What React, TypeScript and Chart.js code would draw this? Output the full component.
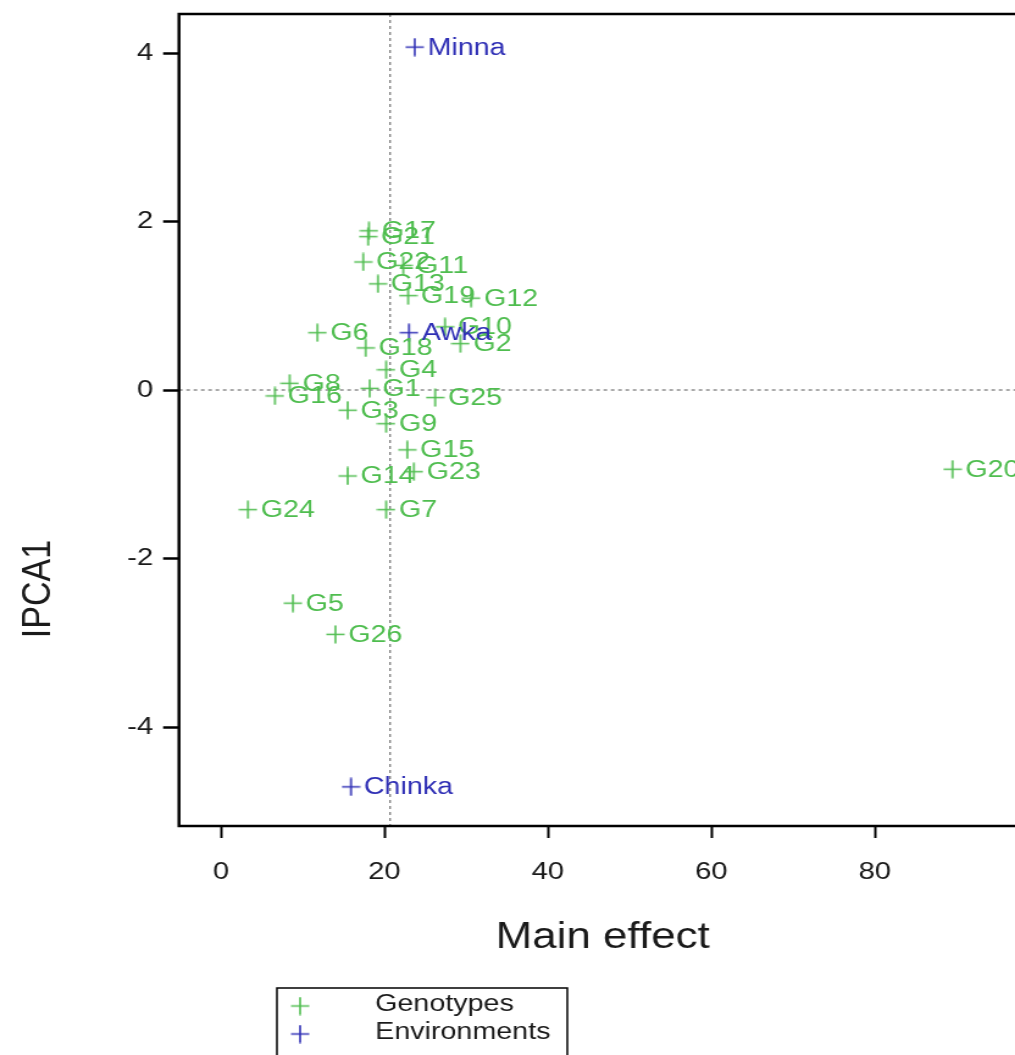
import React, { useEffect, useRef } from "react";
import { Chart, registerables } from "chart.js";

Chart.register(...registerables);

// ---- data ----
const genotypeNames = [
  "G1", "G2", "G3", "G4", "G5", "G6", "G7", "G8", "G9", "G10", "G11", "G12", "G13",
  "G14", "G15", "G16", "G17", "G18", "G19", "G20", "G21", "G22", "G23", "G24", "G25", "G26",
];
const genotypeMain = [
  18.2, 29.3, 15.5, 20.2, 8.8, 11.8, 20.2, 8.4, 20.2, 27.4, 22.3, 30.6, 19.2,
  15.5, 22.8, 6.6, 18.1, 17.7, 22.9, 89.5, 18.0, 17.4, 23.6, 3.3, 26.2, 14.0,
];
const genotypeIPCA1 = [
  0.02, 0.55, -0.24, 0.24, -2.53, 0.68, -1.42, 0.08, -0.4, 0.75, 1.48, 1.09, 1.26,
  -1.02, -0.71, -0.07, 1.89, 0.5, 1.12, -0.94, 1.82, 1.52, -0.97, -1.42, -0.09, -2.9,
];
const envNames = ["Minna", "Awka", "Chinka"];
const envMain = [23.7, 23.0, 15.9];
const envIPCA1 = [4.07, 0.68, -4.71];

const xTickValues = [0, 20, 40, 60, 80];
const yTickValues = [-4, -2, 0, 2, 4];
const grandMean = 20.7;
const legendLabels = ["Genotypes", "Environments"];

// ---- styles ----
const STRETCH = 1.22;
const FONT = "'Liberation Sans', Arial, sans-serif";
const GREEN = "#4fbd4f";
const BLUE = "#2f2fb5";
const TEXT = "#1a1a1a";

function makePlus(color: string) {
  const c = document.createElement("canvas");
  c.width = 16;
  c.height = 19;
  const g = c.getContext("2d")!;
  g.strokeStyle = color;
  g.lineWidth = 1.6;
  g.beginPath();
  g.moveTo(0.5, 9.5);
  g.lineTo(15.5, 9.5);
  g.moveTo(8, 0.5);
  g.lineTo(8, 18.5);
  g.stroke();
  return c;
}

export default function App() {
  const ref = useRef<HTMLCanvasElement | null>(null);

  useEffect(() => {
    const canvas = ref.current;
    if (!canvas) return;
    const plusG = makePlus(GREEN);
    const plusB = makePlus(BLUE);
    const names = [genotypeNames, envNames];

    const decor = {
      id: "decor",
      beforeDatasetsDraw(chart: any) {
        const { ctx, chartArea: a, scales } = chart;
        ctx.save();
        ctx.strokeStyle = "#555";
        ctx.lineWidth = 1;
        ctx.setLineDash([3, 3]);
        const y0 = scales.y.getPixelForValue(0);
        const xm = scales.x.getPixelForValue(grandMean);
        ctx.beginPath();
        ctx.moveTo(a.left, y0);
        ctx.lineTo(a.right, y0);
        ctx.moveTo(xm, a.top);
        ctx.lineTo(xm, a.bottom);
        ctx.stroke();
        ctx.restore();
      },
      afterDatasetsDraw(chart: any) {
        const { ctx, chartArea: a } = chart;
        ctx.save();
        // point labels
        ctx.font = `23.5px ${FONT}`;
        ctx.textAlign = "left";
        ctx.textBaseline = "middle";
        chart.data.datasets.forEach((ds: any, di: number) => {
          const meta = chart.getDatasetMeta(di);
          ctx.fillStyle = ds.labelColor;
          meta.data.forEach((pt: any, j: number) => {
            ctx.fillText(names[di][j], pt.x + 10.5, pt.y + 1);
          });
        });
        // box
        ctx.strokeStyle = "#000";
        ctx.lineWidth = 2.5;
        ctx.strokeRect(a.left, a.top, a.right - a.left, a.bottom - a.top);
        // axis titles
        ctx.fillStyle = TEXT;
        ctx.font = `36px ${FONT}`;
        ctx.textAlign = "center";
        ctx.textBaseline = "alphabetic";
        ctx.fillText("Main effect", 494, 948);
        ctx.save();
        ctx.translate(41, 589);
        ctx.rotate(-Math.PI / 2);
        ctx.font = `34px ${FONT}`;
        ctx.textBaseline = "alphabetic";
        ctx.fillText("IPCA1", 0, 0);
        ctx.restore();
        // legend
        ctx.strokeStyle = "#000";
        ctx.lineWidth = 1.5;
        ctx.strokeRect(227, 988, 238, 90);
        ctx.font = `23.5px ${FONT}`;
        ctx.textAlign = "left";
        ctx.textBaseline = "middle";
        chart.data.datasets.forEach((ds: any, di: number) => {
          const y = 1005 + di * 28;
          const img = ds.pointStyle;
          ctx.drawImage(img, 246 - img.width / 2, y + 1 - img.height / 2);
          ctx.fillStyle = TEXT;
          ctx.fillText(legendLabels[di], 307.5, y);
        });
        ctx.restore();
      },
    };

    const chart = new Chart(canvas, {
      type: "scatter",
      data: {
        datasets: [
          {
            label: legendLabels[0],
            data: genotypeMain.map((x, i) => ({ x, y: genotypeIPCA1[i] })),
            pointStyle: plusG as any,
            pointRadius: 8,
            labelColor: GREEN,
          } as any,
          {
            label: legendLabels[1],
            data: envMain.map((x, i) => ({ x, y: envIPCA1[i] })),
            pointStyle: plusB as any,
            pointRadius: 8,
            labelColor: BLUE,
          } as any,
        ],
      },
      options: {
        animation: false,
        responsive: false,
        devicePixelRatio: 1,
        events: [],
        layout: { padding: { left: 0, top: 14, right: 19, bottom: 0 } },
        plugins: { legend: { display: false }, tooltip: { enabled: false } },
        scales: {
          x: {
            type: "linear",
            min: -5.14,
            max: 98.5,
            afterBuildTicks: (s: any) => {
              s.ticks = xTickValues.map((v) => ({ value: v }));
            },
            afterFit: (s: any) => {
              s.height = 229;
              s.paddingLeft = 0;
              s.paddingRight = 0;
            },
            border: { display: false },
            grid: {
              display: true,
              drawOnChartArea: false,
              drawTicks: true,
              tickLength: 12,
              tickWidth: 2,
              tickColor: "#000",
            },
            ticks: {
              color: TEXT,
              font: { family: FONT, size: 24 },
              padding: 20,
              maxRotation: 0,
              autoSkip: false,
            },
          },
          y: {
            type: "linear",
            min: -5.175,
            max: 4.463,
            afterBuildTicks: (s: any) => {
              s.ticks = yTickValues.map((v) => ({ value: v }));
            },
            afterFit: (s: any) => {
              s.width = 146.7;
              s.paddingTop = 0;
              s.paddingBottom = 0;
            },
            border: { display: false },
            grid: {
              display: true,
              drawOnChartArea: false,
              drawTicks: true,
              tickLength: 13,
              tickWidth: 2.5,
              tickColor: "#000",
            },
            ticks: {
              color: TEXT,
              font: { family: FONT, size: 24 },
              padding: 8,
              autoSkip: false,
            },
          },
        },
      },
      plugins: [decor],
    });
    return () => chart.destroy();
  }, []);

  return (
    <div
      style={{
        position: "fixed",
        left: 0,
        top: 0,
        width: 1015,
        height: 1055,
        overflow: "hidden",
        background: "#fff",
      }}
    >
      <canvas
        ref={ref}
        width={860}
        height={1055}
        style={{
          display: "block",
          width: 860,
          height: 1055,
          transform: `scaleX(${STRETCH})`,
          transformOrigin: "0 0",
        }}
      />
    </div>
  );
}
